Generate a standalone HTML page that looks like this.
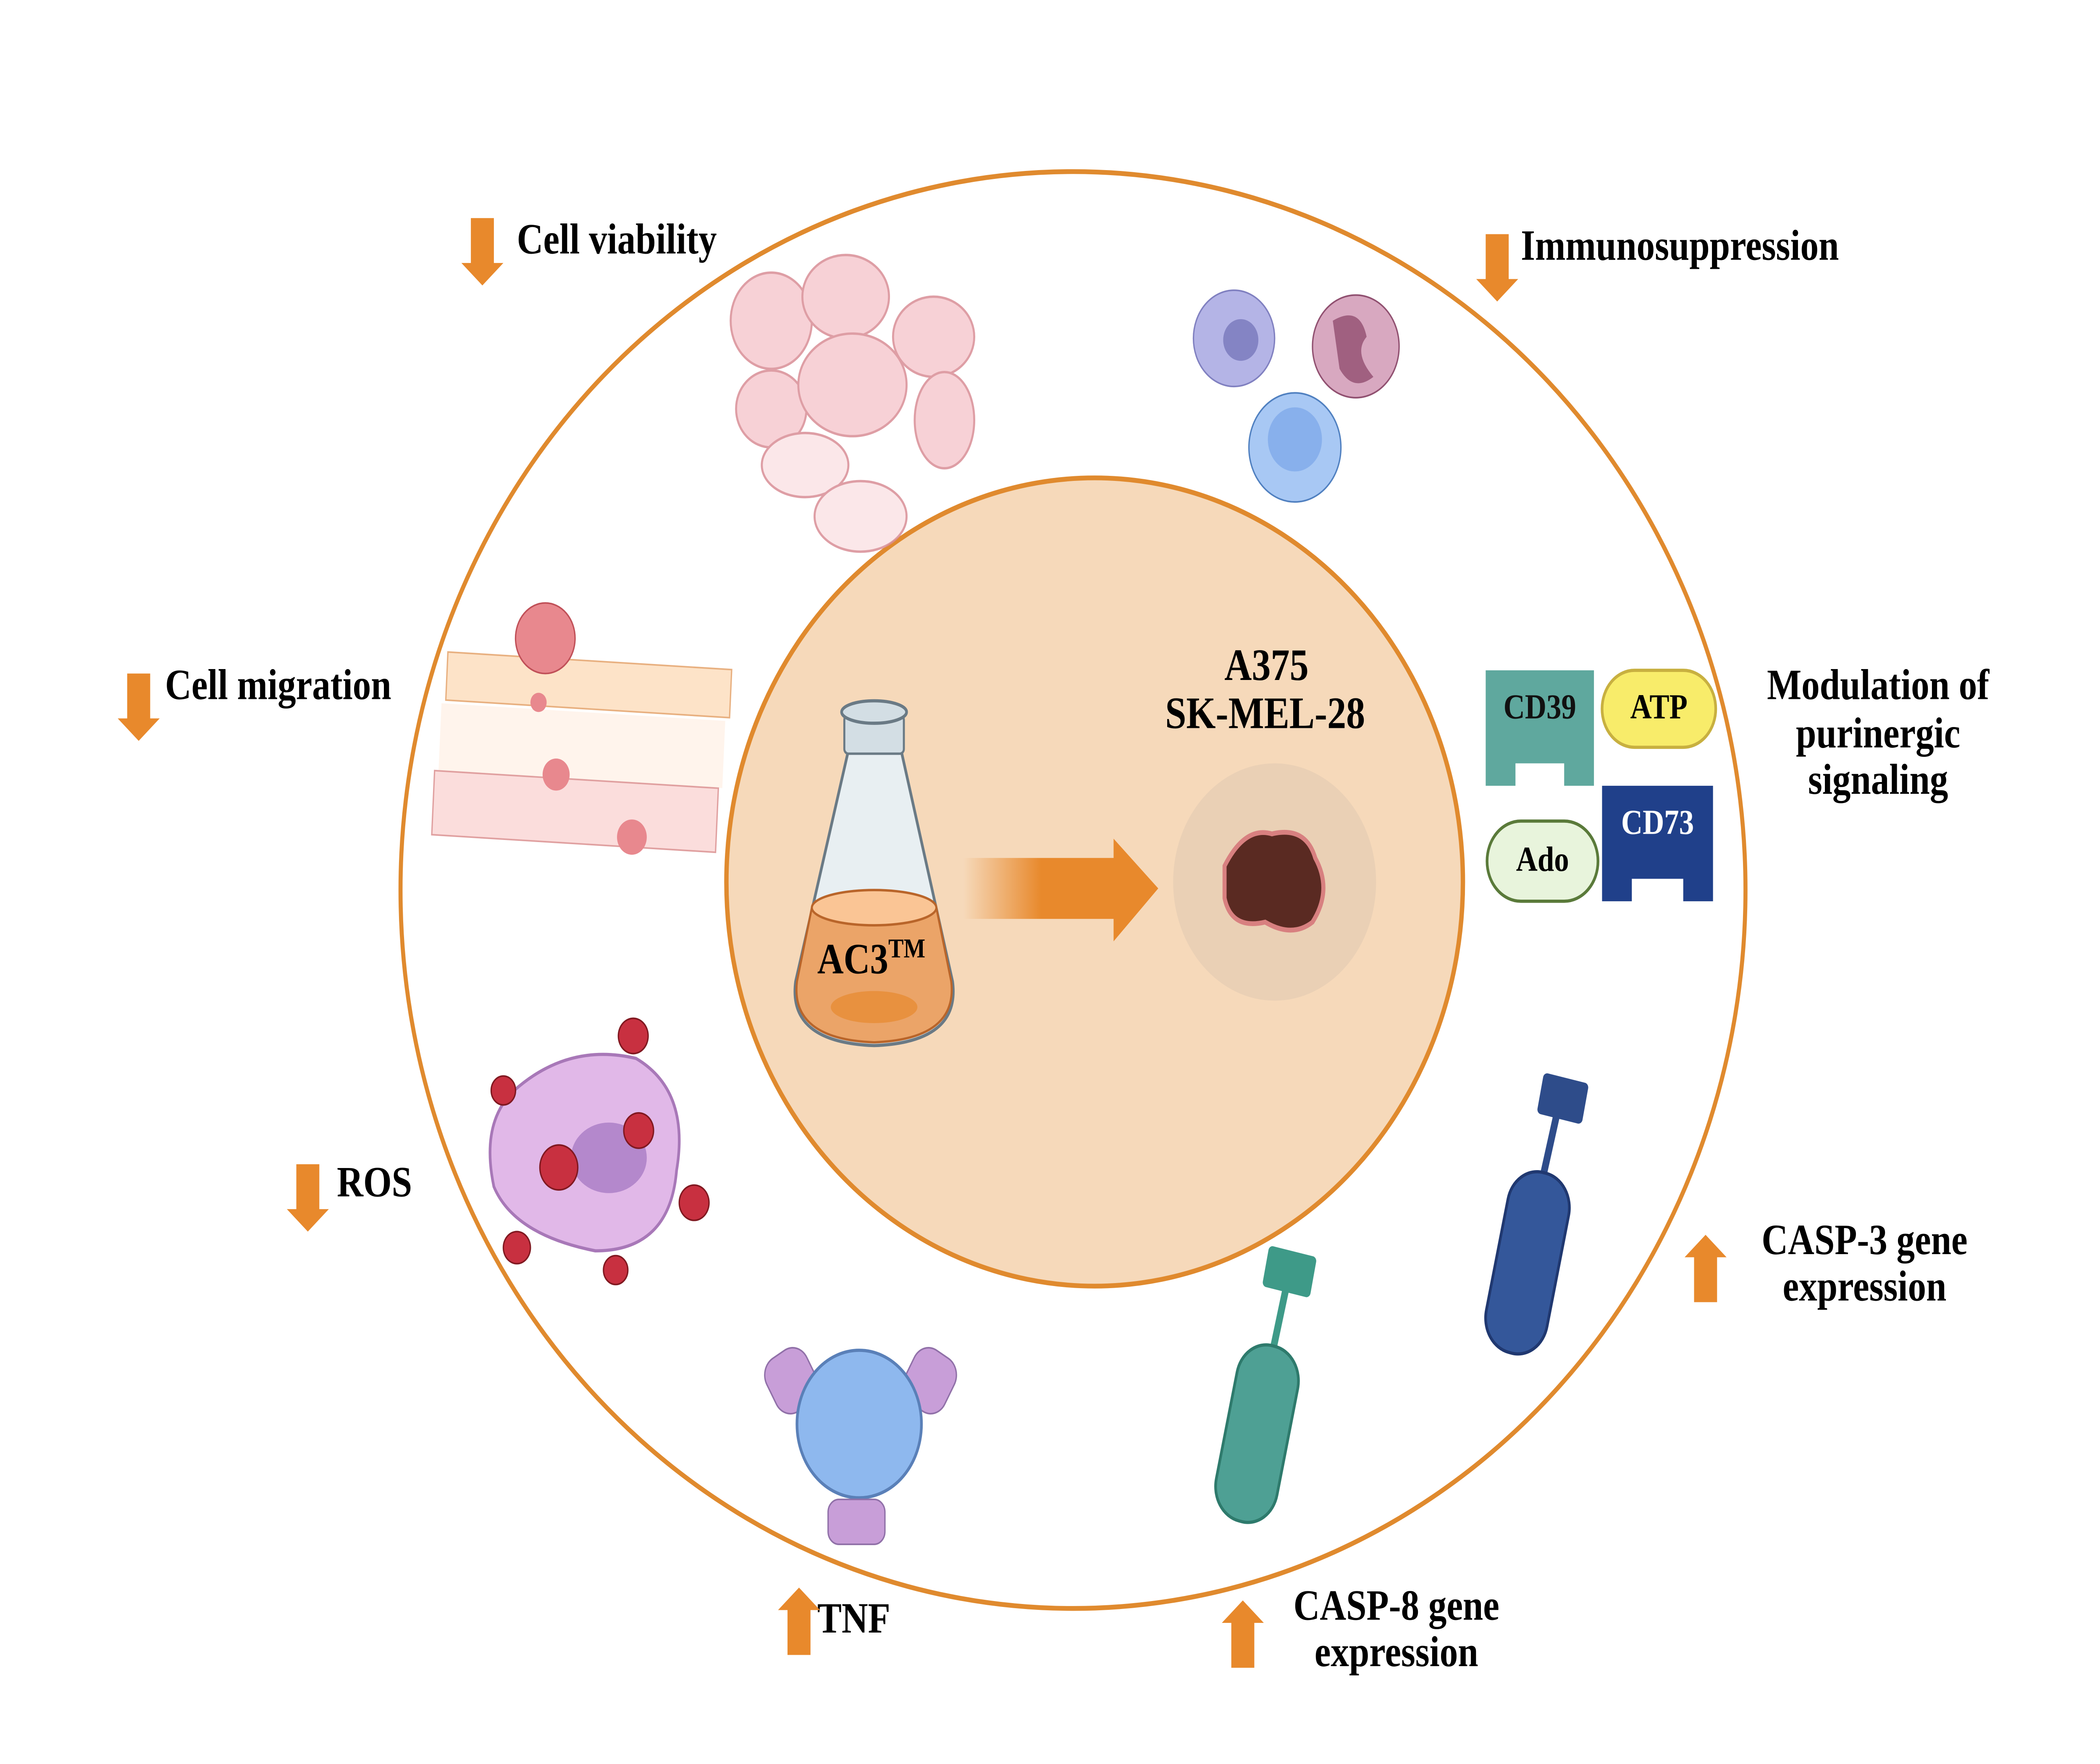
<!DOCTYPE html>
<html><head><style>html,body{margin:0;padding:0;background:#fff;overflow:hidden;width:100vw;height:100vh}svg{display:block;position:absolute;left:0;top:0;width:100vw;height:100vh}</style></head><body>
<svg viewBox="0 0 1552 1100" preserveAspectRatio="none" xmlns="http://www.w3.org/2000/svg" font-family="'Liberation Serif', serif" font-weight="bold">
<defs>
<linearGradient id="ag" x1="0" x2="1"><stop offset="0" stop-color="#E8892C" stop-opacity="0"/><stop offset="0.5" stop-color="#E8892C"/></linearGradient>
</defs>
<rect width="1552" height="1100" fill="#fff"/>
<ellipse cx="793" cy="555" rx="497" ry="448" fill="none" stroke="#E08A2E" stroke-width="3"/>
<circle cx="809" cy="550" r="252" fill="#F6D9BA" stroke="#E08A2E" stroke-width="3" transform="translate(809 550) scale(1.08 1) translate(-809 -550)"/>

<!-- flask -->
<path d="M627 468 L588 612 Q582 650 646 652 Q710 650 704 612 L666 468 Z" fill="#E8EFF2" stroke="#6a7a85" stroke-width="2"/>
<rect x="624" y="446" width="44" height="24" rx="3" fill="#D3DEE4" stroke="#6a7a85" stroke-width="1.5"/>
<ellipse cx="646" cy="444" rx="24" ry="7" fill="#D3DEE4" stroke="#6a7a85" stroke-width="2"/>
<path d="M600 566 L589 612 Q584 648 646 650 Q708 648 703 612 L692 566 Z" fill="#EBA468" stroke="#B9652A" stroke-width="1.5"/>
<ellipse cx="646" cy="566" rx="46" ry="11" fill="#FAC595" stroke="#B9652A" stroke-width="1.5"/>
<ellipse cx="646" cy="628" rx="32" ry="10" fill="#E8913F"/>
<text x="604" y="607" font-size="27">AC3<tspan font-size="17" dy="-10">TM</tspan></text>

<!-- arrow -->
<rect x="712" y="535" width="115" height="38" fill="url(#ag)"/>
<polygon points="823,523 856,554 823,587" fill="#E8892C"/>

<text x="936" y="424" font-size="28" text-anchor="middle">A375</text>
<text x="935" y="454" font-size="28" text-anchor="middle">SK-MEL-28</text>
<ellipse cx="942" cy="550" rx="75" ry="74" fill="#EAD0B5"/>
<path d="M905 540 Q920 515 940 520 Q965 515 972 535 Q985 555 970 575 Q955 585 935 575 Q910 580 905 560 Z" fill="#5a2a22" stroke="#d88080" stroke-width="3"/>

<!-- labels -->
<g font-size="27">
<text x="382" y="158">Cell viability</text>
<text x="1124" y="162">Immunosuppression</text>
<text x="122" y="436">Cell migration</text>
<text x="249" y="746">ROS</text>
<text x="604" y="1018">TNF</text>
<text x="1032" y="1010" text-anchor="middle">CASP-8 gene</text>
<text x="1032" y="1039" text-anchor="middle">expression</text>
<text x="1378" y="782" text-anchor="middle">CASP-3 gene</text>
<text x="1378" y="811" text-anchor="middle">expression</text>
<text x="1388" y="436" text-anchor="middle">Modulation of</text>
<text x="1388" y="466" text-anchor="middle">purinergic</text>
<text x="1388" y="495" text-anchor="middle">signaling</text>
</g>
<g fill="#E8892C">
<path d="M348 136h17v28h7l-15.5 14l-15.5-14h7z"/>
<path d="M1098 146h17v28h7l-15.5 14l-15.5-14h7z"/>
<path d="M94 420h17v28h7l-15.5 14l-15.5-14h7z"/>
<path d="M219 726h17v28h7l-15.5 14l-15.5-14h7z"/>
<path d="M582 1032h17v-28h7l-15.5-14l-15.5 14h7z"/>
<path d="M910 1040h17v-28h7l-15.5-14l-15.5 14h7z"/>
<path d="M1252 812h17v-28h7l-15.5-14l-15.5 14h7z"/>
</g>

<!-- cell viability cluster -->
<g fill="#F6C9CF" stroke="#D98E96" stroke-width="1.5" opacity="0.85">
<ellipse cx="570" cy="200" rx="30" ry="30"/><ellipse cx="625" cy="185" rx="32" ry="26"/><ellipse cx="690" cy="210" rx="30" ry="25"/>
<ellipse cx="570" cy="255" rx="26" ry="24"/><ellipse cx="630" cy="240" rx="40" ry="32"/><ellipse cx="698" cy="262" rx="22" ry="30"/>
<ellipse cx="595" cy="290" rx="32" ry="20" fill="#FBE3E6"/><ellipse cx="636" cy="322" rx="34" ry="22" fill="#FBE3E6"/>
</g>

<!-- immune cells -->
<circle cx="912" cy="211" r="30" fill="#B4B4E6" stroke="#8080c0"/><circle cx="917" cy="212" r="13" fill="#8484c4"/>
<circle cx="1002" cy="216" r="32" fill="#D8A8C0" stroke="#905070"/><path d="M985 200 q20 -10 25 10 q-10 10 5 25 q-15 10 -25 -5 z" fill="#A06080"/>
<circle cx="957" cy="279" r="34" fill="#A8C8F4" stroke="#5080c0"/><circle cx="957" cy="274" r="20" fill="#88B0EC"/>

<!-- migration vessel -->
<rect x="330" y="412" width="210" height="30" fill="#FDE3C8" stroke="#E8B080" transform="rotate(3 434 429)"/>
<rect x="325" y="444" width="210" height="42" fill="#FFF4EC" transform="rotate(3 430 466)"/>
<rect x="320" y="486" width="210" height="40" fill="#FBDDDC" stroke="#E0A0A0" transform="rotate(3 425 506)"/>
<circle cx="403" cy="398" r="22" fill="#E8888E" stroke="#C05058"/>
<circle cx="398" cy="438" r="6" fill="#E8888E"/>
<circle cx="411" cy="483" r="10" fill="#E8888E"/><circle cx="467" cy="522" r="11" fill="#E8888E"/>

<!-- purinergic -->
<path d="M1098 418h80v72h-22v-14h-36v14h-22z" fill="#5FA89E"/>
<text x="1138" y="448" font-size="22" fill="#111" text-anchor="middle">CD39</text>
<rect x="1184" y="418" width="84" height="48" rx="24" fill="#F8EC6A" stroke="#C8B040" stroke-width="2"/>
<text x="1226" y="448" font-size="22" text-anchor="middle">ATP</text>
<path d="M1184 490h82v72h-22v-14h-38v14h-22z" fill="#20408A"/>
<text x="1225" y="520" font-size="22" fill="#fff" text-anchor="middle">CD73</text>
<rect x="1099" y="512" width="82" height="50" rx="25" fill="#E8F4DC" stroke="#5A7A3A" stroke-width="2"/>
<text x="1140" y="543" font-size="22" text-anchor="middle">Ado</text>

<!-- ROS cell -->
<path d="M380 680 Q420 650 470 660 Q510 680 500 730 Q495 780 440 780 Q380 770 365 740 Q355 700 380 680Z" fill="#E1B8E8" stroke="#A878B8" stroke-width="2"/>
<ellipse cx="450" cy="722" rx="28" ry="22" fill="#B488CC"/>
<g fill="#C83040" stroke="#801820">
<circle cx="413" cy="728" r="14"/><circle cx="468" cy="646" r="11"/><circle cx="472" cy="705" r="11"/>
<circle cx="372" cy="680" r="9"/><circle cx="513" cy="750" r="11"/><circle cx="382" cy="778" r="10"/><circle cx="455" cy="792" r="9"/>
</g>

<!-- TNF -->
<rect x="568" y="842" width="34" height="38" rx="12" fill="#C89ED8" stroke="#9070A8" transform="rotate(-30 585 861)"/>
<rect x="670" y="842" width="34" height="38" rx="12" fill="#C89ED8" stroke="#9070A8" transform="rotate(30 687 861)"/>
<circle cx="635" cy="888" r="46" fill="#8EB8EE" stroke="#5A80B8" stroke-width="2"/>
<rect x="612" y="935" width="42" height="28" rx="8" fill="#C89ED8" stroke="#9070A8"/>

<!-- CASP8 -->
<rect x="935" y="780" width="36" height="26" rx="3" fill="#3E9A88" transform="rotate(12 953 793)"/>
<line x1="950" y1="805" x2="940" y2="845" stroke="#3E9A88" stroke-width="5"/>
<rect x="906" y="838" width="46" height="112" rx="22" fill="#4EA094" stroke="#2E7A6C" stroke-width="2" transform="rotate(13 929 894)"/>
<!-- CASP3 -->
<rect x="1138" y="672" width="34" height="26" rx="3" fill="#2E4C8A" transform="rotate(12 1155 685)"/>
<line x1="1150" y1="697" x2="1140" y2="735" stroke="#2E4C8A" stroke-width="5"/>
<rect x="1106" y="730" width="46" height="115" rx="22" fill="#34579A" stroke="#203870" stroke-width="2" transform="rotate(13 1129 787)"/>
</svg>
</body></html>
